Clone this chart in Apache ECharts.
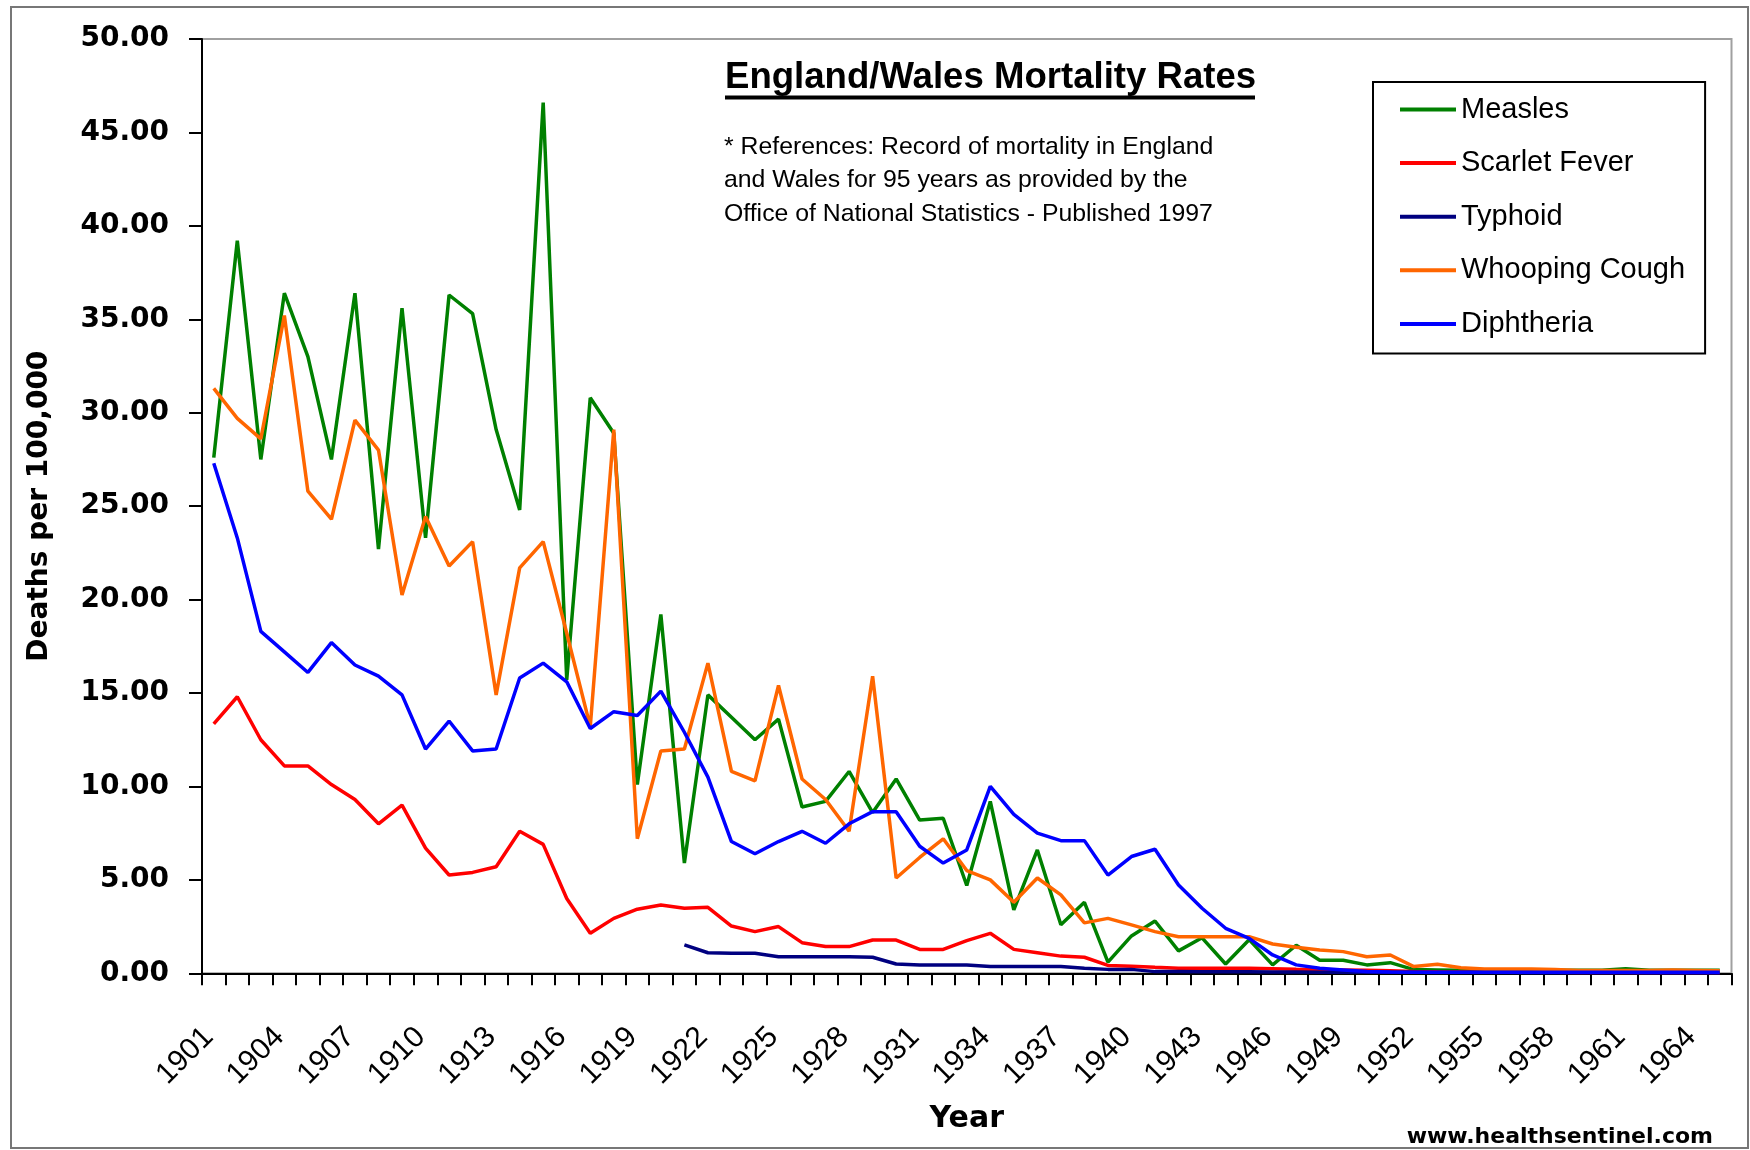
<!DOCTYPE html>
<html>
<head>
<meta charset="utf-8">
<title>England/Wales Mortality Rates</title>
<script src="https://cdn.jsdelivr.net/npm/echarts@6/dist/echarts.min.js"></script>
<style>
  html, body { margin: 0; padding: 0; background: #fff; }
  #chart { width: 1750px; height: 1150px; }
</style>
</head>
<body>
<div id="chart"></div>
<script>
// years 1901 .. 1965
const years = [];
for (let y = 1901; y <= 1965; y++) years.push(String(y));

const yTicks = [0, 5, 10, 15, 20, 25, 30, 35, 40, 45, 50];

const measles = [
  27.6, 39.2, 27.5, 36.4, 33.0, 27.5, 36.4, 22.7, 35.6, 23.3,
  36.3, 35.3, 29.1, 24.8, 46.6, 15.7, 30.8, 28.9, 10.1, 19.2,
  5.9, 14.9, 13.7, 12.5, 13.6, 8.9, 9.2, 10.8, 8.6, 10.4,
  8.2, 8.3, 4.7, 9.2, 3.4, 6.6, 2.6, 3.8, 0.6, 2.0,
  2.8, 1.2, 1.9, 0.5, 1.8, 0.45, 1.5, 0.7, 0.7, 0.45,
  0.57, 0.2, 0.18, 0.16, 0.16, 0.16, 0.16, 0.16, 0.16, 0.16,
  0.25, 0.16, 0.16, 0.16, 0.16
];

const scarletFever = [
  13.35, 14.8, 12.5, 11.1, 11.1, 10.1, 9.3, 8.0, 9.0, 6.7,
  5.26, 5.4, 5.7, 7.6, 6.9, 4.0, 2.14, 2.94, 3.43, 3.66,
  3.48, 3.53, 2.53, 2.23, 2.5, 1.64, 1.43, 1.43, 1.78, 1.78,
  1.28, 1.28, 1.75, 2.14, 1.28, 1.1, 0.92, 0.86, 0.42, 0.38,
  0.32, 0.27, 0.27, 0.27, 0.27, 0.25, 0.22, 0.2, 0.18, 0.16,
  0.14, 0.1, 0.08, 0.07, 0.06, 0.05, 0.05, 0.05, 0.04, 0.04,
  0.04, 0.03, 0.03, 0.03, 0.03
];

const typhoid = [
  null, null, null, null, null, null, null, null, null, null,
  null, null, null, null, null, null, null, null, null, null,
  1.52, 1.1, 1.07, 1.07, 0.89, 0.89, 0.89, 0.89, 0.86, 0.5,
  0.45, 0.45, 0.45, 0.36, 0.36, 0.36, 0.36, 0.27, 0.21, 0.21,
  0.09, 0.09, 0.08, 0.08, 0.08, 0.07, 0.07, 0.06, 0.06, 0.05,
  0.05, 0.05, 0.04, 0.04, 0.04, 0.04, 0.03, 0.03, 0.03, 0.03,
  0.03, 0.02, 0.02, 0.02, 0.02
];

const whoopingCough = [
  31.3, 29.7, 28.6, 35.2, 25.8, 24.3, 29.6, 28.0, 20.25, 24.45,
  21.8, 23.1, 14.9, 21.7, 23.1, 18.2, 13.2, 29.1, 7.2, 11.9,
  12.0, 16.6, 10.8, 10.3, 15.4, 10.4, 9.3, 7.6, 15.9, 5.1,
  6.2, 7.2, 5.5, 5.0, 3.8, 5.1, 4.2, 2.7, 2.94, 2.59,
  2.23, 1.96, 1.96, 1.96, 1.96, 1.57, 1.39, 1.25, 1.16, 0.89,
  0.98, 0.36, 0.48, 0.3, 0.23, 0.23, 0.23, 0.2, 0.15, 0.15,
  0.15, 0.15, 0.17, 0.15, 0.13
];

const diphtheria = [
  27.3, 23.3, 18.3, 17.2, 16.1, 17.7, 16.5, 15.9, 14.9, 12.0,
  13.5, 11.9, 12.0, 15.8, 16.6, 15.6, 13.1, 14.0, 13.8, 15.1,
  12.9, 10.5, 7.05, 6.4, 7.05, 7.6, 6.96, 8.0, 8.65, 8.65,
  6.8, 5.9, 6.6, 10.0, 8.5, 7.5, 7.1, 7.1, 5.26, 6.25,
  6.64, 4.73, 3.48, 2.41, 1.87, 0.98, 0.45, 0.27, 0.18, 0.09,
  0.07, 0.06, 0.06, 0.05, 0.05, 0.05, 0.05, 0.05, 0.05, 0.05,
  0.05, 0.05, 0.05, 0.05, 0.05
];

const seriesNames = ['Measles', 'Scarlet Fever', 'Typhoid', 'Whooping Cough', 'Diphtheria'];
const seriesColors = ['#008000', '#ff0000', '#000080', '#ff6600', '#0000ff'];
const seriesData = [measles, scarletFever, typhoid, whoopingCough, diphtheria];

const chart = echarts.init(document.getElementById('chart'));

const option = {
  animation: false,
  backgroundColor: '#fff',
  title: [
    {
      text: 'England/Wales Mortality Rates',
      left: 725,
      top: 60,
      padding: 0,
      textStyle: {
        fontFamily: 'Liberation Sans',
        fontWeight: 'bold',
        fontSize: 36.6,
        lineHeight: 36,
        color: '#000'
      }
    },
    {
      text: '* References: Record of mortality in England\nand Wales for 95 years as provided by the\nOffice of National Statistics - Published 1997',
      left: 724,
      top: 130,
      padding: 0,
      textStyle: {
        fontFamily: 'Liberation Sans',
        fontWeight: 'normal',
        fontSize: 24.8,
        lineHeight: 33.7,
        color: '#000'
      }
    }
  ],
  graphic: [
    {
      type: 'rect',
      shape: { x: 11, y: 7, width: 1737, height: 1141 },
      style: { fill: 'none', stroke: '#777', lineWidth: 2 },
      silent: true
    },
    {
      type: 'rect',
      shape: { x: 725, y: 95.5, width: 530, height: 4 },
      style: { fill: '#000' },
      silent: true
    },
    {
      type: 'text',
      x: 1713,
      y: 1137,
      style: {
        text: 'www.healthsentinel.com',
        fontFamily: 'DejaVu Sans',
        fontWeight: 'bold',
        fontSize: 22,
        fill: '#000',
        align: 'right',
        verticalAlign: 'middle'
      },
      silent: true
    }
  ],
  legend: {
    orient: 'vertical',
    left: 1373,
    top: 82,
    padding: [13, 20, 15, 27],
    borderColor: '#000',
    borderWidth: 2,
    backgroundColor: '#fff',
    icon: 'rect',
    itemWidth: 56,
    itemHeight: 4,
    itemGap: 24.6,
    data: seriesNames,
    textStyle: {
      fontFamily: 'Liberation Sans',
      fontSize: 29,
      lineHeight: 29,
      color: '#000'
    }
  },
  grid: {
    left: 202,
    right: 18.5,
    top: 39,
    bottom: 176.7,
    show: true,
    borderColor: '#a0a0a0',
    borderWidth: 2,
    backgroundColor: '#fff'
  },
  xAxis: {
    type: 'category',
    data: years,
    boundaryGap: true,
    name: 'Year',
    nameLocation: 'middle',
    nameGap: 131,
    nameTextStyle: {
      fontFamily: 'DejaVu Sans',
      fontWeight: 'bold',
      fontSize: 30,
      color: '#000'
    },
    axisLine: { lineStyle: { color: '#000', width: 2 } },
    axisTick: {
      show: true,
      interval: 0,
      length: 12,
      lineStyle: { color: '#000', width: 2 }
    },
    axisLabel: {
      interval: 2,
      rotate: 45,
      margin: 54,
      padding: [0, 7, 0, 0],
      fontFamily: 'Liberation Sans',
      fontSize: 30,
      color: '#000'
    },
    splitLine: { show: false }
  },
  yAxis: {
    type: 'value',
    min: yTicks[0],
    max: yTicks[yTicks.length - 1],
    interval: 5,
    name: 'Deaths per 100,000',
    nameLocation: 'middle',
    nameGap: 148,
    nameTextStyle: {
      fontFamily: 'DejaVu Sans',
      fontWeight: 'bold',
      fontSize: 28,
      color: '#000'
    },
    axisLine: { show: true, lineStyle: { color: '#000', width: 2 } },
    axisTick: {
      show: true,
      length: 13,
      lineStyle: { color: '#000', width: 2 }
    },
    axisLabel: {
      margin: 33,
      formatter: v => v.toFixed(2),
      fontFamily: 'DejaVu Sans',
      fontWeight: 'bold',
      fontSize: 28,
      color: '#000'
    },
    splitLine: { show: false }
  },
  series: seriesNames.map((name, i) => ({
    name: name,
    type: 'line',
    data: seriesData[i],
    symbol: 'none',
    showSymbol: false,
    connectNulls: false,
    color: seriesColors[i],
    lineStyle: { color: seriesColors[i], width: 3.5 },
    emphasis: { disabled: true }
  }))
};

chart.setOption(option);
</script>
</body>
</html>
